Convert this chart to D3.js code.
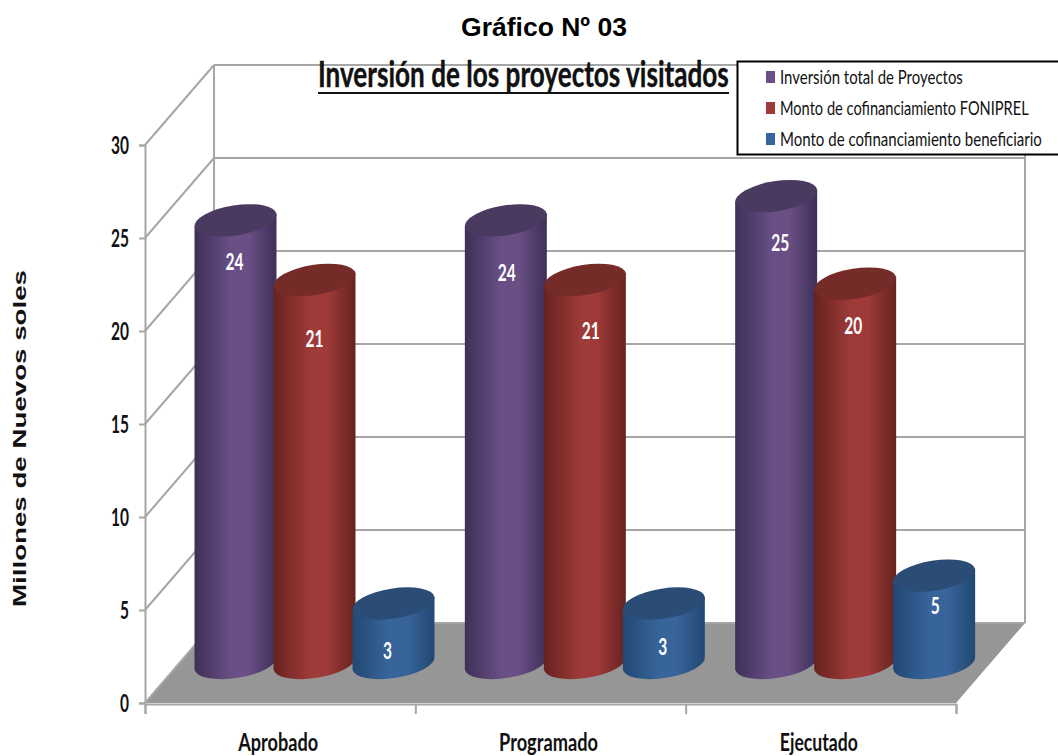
<!DOCTYPE html>
<html>
<head>
<meta charset="utf-8">
<script src="https://cdn.jsdelivr.net/npm/d3@7"></script>
<style>
  html, body { margin: 0; background: #fff; }
  svg { display: block; }
  .cal { font-family: Lato, "Open Sans", sans-serif; font-weight: 700; }
</style>
</head>
<body>
<div id="chart"></div>
<script>
const categories = ['Aprobado', 'Programado', 'Ejecutado'];
const seriesNames = [
    'Inversión total de Proyectos',
    'Monto de cofinanciamiento FONIPREL',
    'Monto de cofinanciamiento beneficiario'
];
const inversionTotal = [23.8, 23.8, 25.1];
const montoFoniprel = [20.6, 20.6, 20.4];
const montoBeneficiario = [3.2, 3.2, 4.7];
const yTicks = [0, 5, 10, 15, 20, 25, 30];

// edge, middle and lid colours of each cylinder
const colours = [
    { edge: '#3e2f58', mid: '#694f85', lid: '#4a3a60' },
    { edge: '#662220', mid: '#9e3b38', lid: '#752b28' },
    { edge: '#224873', mid: '#37659b', lid: '#2b4c75' }
];

const width = 1058, height = 756;
const svg = d3.select('#chart').append('svg').attr('width', width).attr('height', height);
const defs = svg.append('defs');

// Front plane of the 3D box, the back wall sits at an offset
const y = d3.scaleLinear().domain([0, 30]).range([703, 145]);
const x0 = d3.scaleBand().domain(categories).range([145, 956]);
const x1 = d3.scaleBand().domain(seriesNames).range([16.5, 253.5]);
const edges = d3.scaleLinear().domain([0, 3]).range([145, 956]);
const depth = { x: 69, y: -80 };
const rx = 41.5, ry = 15, tilt = -9;

const grey = '#a6a6a6';

// Floor
const floor = [[145, y(0)], [145 + depth.x, y(0) + depth.y], [956 + depth.x, y(0) + depth.y], [956, y(0)]];
svg.append('polygon')
    .attr('points', floor.map(p => p.join(',')).join(' '))
    .attr('fill', '#969696');

// Back wall grid and left wall diagonals
const grid = svg.append('g').attr('stroke', grey).attr('stroke-width', 2).attr('fill', 'none');
grid.selectAll('line.back')
    .data(yTicks)
    .join('line')
    .attr('class', 'back')
    .attr('x1', 145 + depth.x).attr('x2', 956 + depth.x)
    .attr('y1', d => y(d) + depth.y).attr('y2', d => y(d) + depth.y);
grid.selectAll('line.side')
    .data(yTicks)
    .join('line')
    .attr('class', 'side')
    .attr('x1', 145).attr('x2', 145 + depth.x)
    .attr('y1', d => y(d)).attr('y2', d => y(d) + depth.y);
[145, 956].forEach(xp => {
    grid.append('line')
        .attr('x1', xp + depth.x).attr('x2', xp + depth.x)
        .attr('y1', y(0) + depth.y).attr('y2', y(30) + depth.y);
});

// Axes
const yAxis = svg.append('g')
    .attr('transform', 'translate(145,0)')
    .call(d3.axisLeft(y).tickValues(yTicks).tickSize(6).tickFormat(''));
const xAxis = svg.append('g')
    .attr('transform', `translate(0,${y(0) + 1})`)
    .call(d3.axisBottom(edges).ticks(3).tickSize(10).tickFormat(''));
[yAxis, xAxis].forEach(a => {
    a.selectAll('path, line').attr('stroke', grey).attr('stroke-width', 2);
});

// Squeeze text sideways to a width, the reference font is narrower than anything installed
function squeeze(sel, widthOf) {
    sel.each(function (d, i) {
        const t = d3.select(this);
        const xp = +t.attr('x');
        const k = widthOf(d, i) / this.getComputedTextLength();
        t.attr('transform', `translate(${xp},0) scale(${k},1) translate(${-xp},0)`);
    });
}

svg.append('g').selectAll('text')
    .data(yTicks)
    .join('text')
    .attr('x', 129)
    .attr('y', d => y(d))
    .attr('dy', '0.36em')
    .attr('text-anchor', 'end')
    .attr('class', 'cal')
    .attr('font-size', 24)
    .attr('fill', '#111')
    .text(d => d)
    .call(squeeze, d => d < 10 ? 9 : 18);

const categoryWidths = [80, 99, 78];
svg.append('g').selectAll('text')
    .data(categories)
    .join('text')
    .attr('x', d => x0(d) + x0.bandwidth() / 2 - 2)
    .attr('y', 751)
    .attr('text-anchor', 'middle')
    .attr('class', 'cal')
    .attr('font-size', 24)
    .attr('fill', '#111')
    .text(d => d)
    .call(squeeze, (d, i) => categoryWidths[i]);

// Cylinders
const seriesValues = [inversionTotal, montoFoniprel, montoBeneficiario];
seriesNames.forEach((name, s) => {
    const grad = defs.append('linearGradient').attr('id', `grad${s}`);
    grad.append('stop').attr('offset', '0%').attr('stop-color', colours[s].edge);
    grad.append('stop').attr('offset', '45%').attr('stop-color', colours[s].mid);
    grad.append('stop').attr('offset', '65%').attr('stop-color', colours[s].mid);
    grad.append('stop').attr('offset', '100%').attr('stop-color', colours[s].edge);
});

const bars = [];
seriesNames.forEach((name, s) => {
    categories.forEach((cat, c) => {
        bars.push({
            s, c,
            value: seriesValues[s][c],
            cx: x0(cat) + x1(name) + x1.bandwidth() / 2 + depth.x / 2,
            top: y(seriesValues[s][c]) + depth.y / 2,
            bottom: y(0) + depth.y / 2
        });
    });
});

const ax = rx * Math.cos(tilt * Math.PI / 180);
const ay = rx * Math.sin(tilt * Math.PI / 180);

const cyl = svg.append('g').selectAll('g')
    .data(bars)
    .join('g');

cyl.append('path')
    .attr('fill', d => `url(#grad${d.s})`)
    .attr('d', d => {
        const l = [d.cx - ax, d.top - ay], r = [d.cx + ax, d.top + ay];
        const lb = [d.cx - ax, d.bottom - ay], rb = [d.cx + ax, d.bottom + ay];
        return `M${l} L${lb} A${rx},${ry} ${tilt} 0 0 ${rb} L${r} Z`;
    });

cyl.append('ellipse')
    .attr('rx', rx)
    .attr('ry', ry)
    .attr('fill', d => colours[d.s].lid)
    .attr('transform', d => `translate(${d.cx},${d.top}) rotate(${tilt})`);

// The reference labels were placed by hand, so each one gets its own nudge
const labelNudge = [
    [-1, 41], [1, 52], [4, 47],
    [0, 59], [6, 51], [-2, 42],
    [-6, 47], [-1, 43], [1, 30]
];
cyl.append('text')
    .attr('x', (d, i) => d.cx + labelNudge[i][0])
    .attr('y', (d, i) => d.top + labelNudge[i][1])
    .attr('dy', '0.36em')
    .attr('text-anchor', 'middle')
    .attr('class', 'cal')
    .attr('font-size', 23)
    .attr('fill', '#fff')
    .text(d => d3.format('.0f')(d.value))
    .call(squeeze, d => Math.round(d.value) < 10 ? 9 : 18);

// Titles
svg.append('text')
    .attr('x', 544).attr('y', 36)
    .attr('text-anchor', 'middle')
    .attr('font-family', '"Liberation Sans", Arial, sans-serif')
    .attr('font-weight', 700)
    .attr('font-size', 26.5)
    .attr('fill', '#000')
    .text('Gráfico Nº 03');

svg.append('text')
    .attr('x', 318).attr('y', 87)
    .attr('class', 'cal')
    .attr('font-size', 37)
    .attr('fill', '#111')
    .attr('stroke', '#111')
    .attr('stroke-width', 0.4)
    .text('Inversión de los proyectos visitados')
    .call(squeeze, () => 411);
svg.append('line')
    .attr('x1', 318).attr('x2', 729)
    .attr('y1', 93).attr('y2', 93)
    .attr('stroke', '#111').attr('stroke-width', 2);

svg.append('text')
    .attr('transform', 'translate(26,438.5) rotate(-90)')
    .attr('text-anchor', 'middle')
    .attr('font-family', '"Liberation Sans", Arial, sans-serif')
    .attr('font-weight', 700)
    .attr('font-size', 18)
    .attr('fill', '#111')
    .attr('textLength', 337)
    .attr('lengthAdjust', 'spacingAndGlyphs')
    .text('Millones de Nuevos soles');

// Legend
const legend = svg.append('g');
legend.append('rect')
    .attr('x', 737.5).attr('y', 61.5)
    .attr('width', 330).attr('height', 93)
    .attr('fill', '#fff')
    .attr('stroke', '#000').attr('stroke-width', 2);
const legendY = d3.scalePoint().domain(seriesNames).range([77, 139]);
const legendWidths = [183, 249, 262];
const legendRow = legend.selectAll('g')
    .data(seriesNames)
    .join('g')
    .attr('transform', d => `translate(766,${legendY(d)})`);
legendRow.append('rect')
    .attr('x', 0).attr('y', -6)
    .attr('width', 9).attr('height', 12)
    .attr('fill', (d, i) => colours[i].mid);
legendRow.append('text')
    .attr('x', 14)
    .attr('dy', '0.36em')
    .attr('font-family', 'Lato, "Open Sans", sans-serif')
    .attr('font-size', 19)
    .attr('fill', '#111')
    .text(d => d)
    .call(squeeze, (d, i) => legendWidths[i]);
</script>
</body>
</html>
